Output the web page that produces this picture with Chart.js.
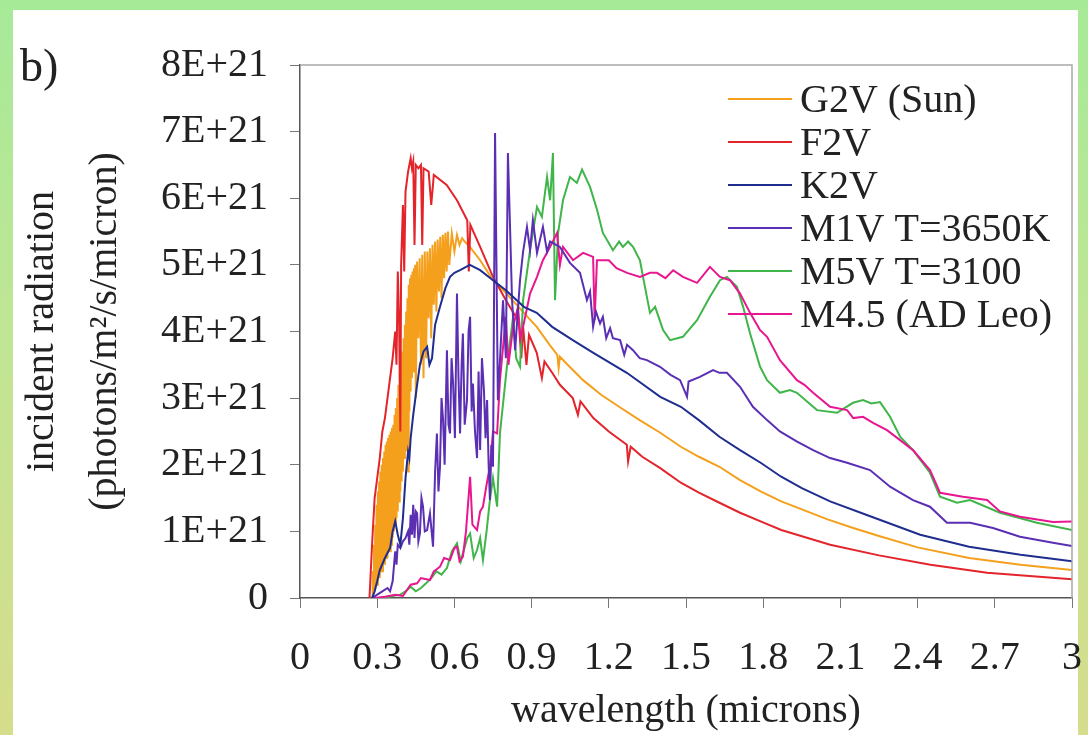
<!DOCTYPE html>
<html>
<head>
<meta charset="utf-8">
<script src="https://cdn.jsdelivr.net/npm/chart.js@4.4.1/dist/chart.umd.min.js"></script>
<style>
  html, body { margin: 0; padding: 0; }
  body {
    width: 1088px; height: 735px; overflow: hidden; position: relative;
    background: linear-gradient(to bottom, #a6ea98 0%, #bfe594 45%, #d6dd8c 100%);
  }
  #panel { position: absolute; left: 13px; top: 10px; width: 1065px; height: 725px; background: #fff; }
  #wrap { position: absolute; left: 0; top: 0; width: 1088px; height: 735px; }
  #tag { position: absolute; left: 20px; top: 43px; font: 46px/46px 'Liberation Serif', serif; color: #222; }
</style>
</head>
<body>
<div id="panel"></div>
<div id="wrap"><canvas id="chart"></canvas></div>
<div id="tag">b)</div>
<script>
  'use strict';

  // wavelength (microns) vs incident radiation, values in units of 1E+21 photons/m2/s/micron
  const SERIES_NAMES = ['G2V (Sun)', 'F2V', 'K2V', 'M1V T=3650K', 'M5V T=3100', 'M4.5 (AD Leo)'];
  const SERIES_COLORS = ['#f5a01c', '#e3242b', '#1f2d8f', '#5b2fb3', '#3fb54a', '#e8168f'];
  const X_TICKS = [0, 0.3, 0.6, 0.9, 1.2, 1.5, 1.8, 2.1, 2.4, 2.7, 3];
  const Y_MAX = 8;

  const g2v = [
    [0.2800, 0], [0.2825, 0.4], [0.2850, 0.1], [0.2875, 0.8], [0.2900, 0.1], [0.2925, 1.1], [0.2950, 0.2], [0.2975, 1.4],
    [0.3000, 0.2], [0.3025, 1.6], [0.3050, 0.3], [0.3075, 1.75], [0.3100, 0.3], [0.3125, 1.9], [0.3150, 0.4], [0.3175, 2.0],
    [0.3200, 0.4], [0.3225, 2.1], [0.3250, 0.5], [0.3275, 2.2], [0.3300, 0.5], [0.3325, 2.3], [0.3350, 0.6], [0.3375, 2.35],
    [0.3400, 0.6], [0.3425, 2.4], [0.3450, 0.7], [0.3475, 2.45], [0.3500, 0.7], [0.3525, 2.5], [0.3550, 0.8], [0.3575, 2.55],
    [0.3600, 0.9], [0.3625, 2.6], [0.3650, 1.0], [0.3675, 2.75], [0.3700, 1.1], [0.3725, 2.85], [0.3750, 1.2], [0.3775, 3.0],
    [0.3800, 1.3], [0.3825, 3.2], [0.3850, 1.45], [0.3875, 3.4], [0.3900, 1.6], [0.3925, 3.5], [0.3950, 1.75], [0.3975, 3.7],
    [0.4000, 1.9], [0.4025, 3.9], [0.4050, 2.1], [0.4075, 4.1], [0.4100, 2.4], [0.4125, 4.3], [0.4150, 2.2], [0.4175, 4.5],
    [0.4200, 1.9], [0.4225, 4.7], [0.4250, 2.8], [0.4275, 4.8], [0.4300, 3.1], [0.4325, 4.85], [0.4350, 3.3], [0.4375, 4.9],
    [0.4400, 3.4], [0.4425, 4.95], [0.4450, 3.6], [0.4475, 5.0], [0.450, 3.0], [0.455, 5.05], [0.460, 3.9], [0.465, 5.1],
    [0.470, 3.5], [0.475, 5.15], [0.480, 3.3], [0.485, 5.2], [0.490, 3.6], [0.495, 5.2], [0.500, 4.2], [0.505, 5.25],
    [0.510, 3.9], [0.515, 5.3], [0.520, 4.4], [0.525, 5.35], [0.530, 4.3], [0.535, 5.38], [0.540, 4.6], [0.545, 5.42],
    [0.550, 4.5], [0.555, 5.45], [0.560, 4.8], [0.565, 5.48], [0.570, 4.9], [0.575, 5.5], [0.580, 5.0], [0.590, 5.47],
    [0.600, 5.2], [0.610, 5.45], [0.620, 5.3], [0.630, 5.4], [0.640, 5.35], [0.660, 5.27], [0.700, 5.07], [0.750, 4.77],
    [0.800, 4.58], [0.870, 4.28], [0.920, 4.07], [0.970, 3.8], [1.000, 3.65], [1.005, 3.45], [1.010, 3.62], [1.040, 3.5],
    [1.100, 3.27], [1.170, 3.05], [1.240, 2.87], [1.320, 2.67], [1.400, 2.48], [1.480, 2.27], [1.550, 2.12],
    [1.630, 1.97], [1.710, 1.77], [1.790, 1.6], [1.870, 1.45], [1.950, 1.33], [2.050, 1.18], [2.150, 1.05],
    [2.250, 0.93], [2.400, 0.76], [2.600, 0.6], [2.800, 0.5], [3.000, 0.42]
  ];

  const f2v = [
    [0.270, 0], [0.280, 0.8], [0.290, 1.5], [0.300, 1.8], [0.310, 2.1], [0.320, 2.5], [0.330, 2.7], [0.340, 3.0],
    [0.350, 3.3], [0.360, 3.6], [0.370, 4.0], [0.375, 3.5], [0.380, 4.9], [0.385, 4.2], [0.390, 2.5], [0.393, 5.0],
    [0.400, 5.9], [0.405, 4.9], [0.410, 6.1], [0.420, 6.4], [0.430, 6.6], [0.435, 6.45], [0.440, 6.55], [0.445, 5.3],
    [0.450, 6.5], [0.460, 6.45], [0.470, 6.5], [0.475, 5.3], [0.480, 6.45], [0.500, 6.4], [0.510, 5.9], [0.520, 6.35],
    [0.570, 6.2], [0.610, 5.97], [0.650, 5.67], [0.656, 4.9], [0.662, 5.6], [0.700, 5.27], [0.750, 4.82],
    [0.800, 4.47], [0.850, 4.15], [0.860, 3.6], [0.867, 4.07], [0.880, 3.5], [0.890, 3.95], [0.920, 3.68],
    [0.940, 3.3], [0.950, 3.55], [0.980, 3.38], [1.010, 3.2], [1.060, 3.0], [1.080, 2.75], [1.090, 2.95],
    [1.140, 2.7], [1.200, 2.5], [1.270, 2.3], [1.275, 2.05], [1.285, 2.27], [1.330, 2.12], [1.400, 1.95],
    [1.480, 1.73], [1.550, 1.58], [1.630, 1.43], [1.710, 1.28], [1.790, 1.15], [1.870, 1.02], [2.060, 0.8],
    [2.250, 0.64], [2.450, 0.5], [2.670, 0.38], [3.000, 0.28]
  ];

  const k2v = [
    [0.280, 0], [0.290, 0.1], [0.300, 0.25], [0.310, 0.42], [0.330, 0.6], [0.350, 0.75], [0.360, 1.0], [0.370, 1.15],
    [0.380, 0.95], [0.390, 0.8], [0.400, 1.2], [0.410, 1.8], [0.420, 2.2], [0.425, 2.1], [0.430, 2.4], [0.440, 2.75],
    [0.455, 3.2], [0.466, 3.5], [0.480, 3.7], [0.494, 3.77], [0.503, 3.5], [0.513, 3.6], [0.525, 4.1], [0.544, 4.37],
    [0.565, 4.65], [0.583, 4.82], [0.600, 4.88], [0.622, 4.92], [0.660, 5.0], [0.700, 4.92], [0.750, 4.77],
    [0.800, 4.62], [0.870, 4.37], [0.920, 4.28], [0.980, 4.07], [1.060, 3.87], [1.140, 3.68], [1.270, 3.38],
    [1.400, 3.02], [1.480, 2.87], [1.550, 2.67], [1.630, 2.42], [1.710, 2.22], [1.790, 2.03], [1.870, 1.82],
    [1.950, 1.65], [2.060, 1.45], [2.200, 1.25], [2.410, 0.95], [2.600, 0.77], [2.800, 0.65], [3.000, 0.55]
  ];

  const m1v = [
    [0.280, 0], [0.300, 0.05], [0.320, 0.1], [0.340, 0.15], [0.350, 0.1], [0.360, 0.25], [0.370, 0.7], [0.375, 0.5],
    [0.380, 0.8], [0.390, 0.75], [0.400, 0.85], [0.410, 0.9], [0.420, 1.0], [0.425, 0.8], [0.430, 1.25], [0.435, 0.95],
    [0.440, 1.4], [0.445, 0.9], [0.450, 1.3], [0.455, 1.27], [0.460, 0.85], [0.466, 0.97], [0.472, 1.5], [0.478, 1.37],
    [0.485, 1.0], [0.494, 1.02], [0.505, 1.27], [0.517, 0.77], [0.525, 1.9], [0.532, 2.47], [0.538, 1.6], [0.544, 1.97],
    [0.550, 3.0], [0.556, 2.67], [0.562, 2.0], [0.571, 3.72], [0.577, 2.6], [0.583, 2.47], [0.589, 3.6], [0.595, 3.22],
    [0.602, 2.4], [0.610, 4.57], [0.616, 3.3], [0.622, 2.47], [0.628, 3.5], [0.633, 3.97], [0.640, 2.6], [0.649, 2.97],
    [0.655, 4.0], [0.661, 4.22], [0.667, 2.8], [0.672, 3.22], [0.680, 2.5], [0.688, 2.1], [0.694, 3.4], [0.700, 2.22],
    [0.707, 3.6], [0.715, 3.1], [0.721, 2.4], [0.727, 2.97], [0.733, 2.0], [0.738, 1.47], [0.744, 2.3], [0.750, 1.97],
    [0.758, 6.98], [0.769, 2.97], [0.789, 4.47], [0.800, 3.6], [0.808, 6.68], [0.816, 5.6],
    [0.824, 4.47], [0.836, 3.72], [0.855, 4.77], [0.867, 5.2], [0.882, 5.57], [0.894, 5.22], [0.905, 5.67],
    [0.921, 5.18], [0.944, 5.57], [0.960, 5.2], [0.972, 5.35], [1.010, 5.27], [1.049, 5.03], [1.088, 4.88],
    [1.115, 4.47], [1.127, 4.6], [1.139, 4.07], [1.150, 4.3], [1.166, 4.12], [1.177, 4.22], [1.190, 3.9],
    [1.205, 4.05], [1.216, 3.9], [1.244, 3.87], [1.260, 3.65], [1.271, 3.8], [1.294, 3.72], [1.320, 3.6],
    [1.348, 3.57], [1.399, 3.47], [1.440, 3.35], [1.477, 3.27], [1.504, 3.02], [1.510, 3.25], [1.554, 3.32],
    [1.605, 3.42], [1.630, 3.38], [1.659, 3.38], [1.710, 3.17], [1.760, 2.87], [1.815, 2.67], [1.865, 2.5],
    [1.930, 2.35], [1.994, 2.22], [2.060, 2.1], [2.126, 2.03], [2.215, 1.92], [2.293, 1.67], [2.382, 1.47],
    [2.448, 1.37], [2.514, 1.13], [2.604, 1.13], [2.693, 1.05], [2.798, 0.92], [2.926, 0.83], [3.000, 0.78]
  ];

  const m5v = [
    [0.330, 0], [0.360, 0.03], [0.390, 0.05], [0.410, 0.1], [0.430, 0.17], [0.450, 0.1], [0.470, 0.15], [0.490, 0.22],
    [0.510, 0.3], [0.530, 0.4], [0.550, 0.35], [0.571, 0.45], [0.590, 0.7], [0.610, 0.82], [0.625, 0.55],
    [0.633, 0.67], [0.650, 0.9], [0.661, 0.97], [0.675, 0.6], [0.688, 0.72], [0.700, 0.9], [0.711, 0.57],
    [0.725, 1.0], [0.738, 1.47], [0.750, 1.8], [0.766, 1.37], [0.777, 2.47], [0.804, 3.47], [0.828, 4.22],
    [0.840, 3.6], [0.855, 3.47], [0.867, 4.47], [0.894, 5.22], [0.921, 5.87], [0.940, 5.72], [0.960, 6.32],
    [0.972, 5.97], [0.983, 6.68], [0.991, 4.47], [1.003, 5.48], [1.022, 5.97], [1.049, 6.32], [1.076, 6.23],
    [1.096, 6.43], [1.127, 6.17], [1.154, 5.83], [1.177, 5.48], [1.216, 5.22], [1.240, 5.35], [1.255, 5.27],
    [1.275, 5.35], [1.294, 5.27], [1.321, 5.07], [1.333, 4.82], [1.360, 4.28], [1.380, 4.37], [1.411, 4.02],
    [1.438, 3.87], [1.488, 3.92], [1.543, 4.17], [1.593, 4.52], [1.632, 4.77], [1.659, 4.82], [1.698, 4.67],
    [1.722, 4.37], [1.749, 3.97], [1.788, 3.47], [1.815, 3.27], [1.865, 3.08], [1.904, 3.12], [1.931, 3.08],
    [2.009, 2.82], [2.087, 2.78], [2.149, 2.93], [2.188, 2.97], [2.220, 2.92], [2.254, 2.94], [2.293, 2.72],
    [2.332, 2.42], [2.382, 2.22], [2.448, 1.88], [2.487, 1.52], [2.553, 1.43], [2.604, 1.47], [2.720, 1.28],
    [2.864, 1.13], [3.000, 1.02]
  ];

  const m45 = [
    [0.290, 0], [0.330, 0.02], [0.370, 0.05], [0.400, 0.03], [0.430, 0.2], [0.455, 0.22], [0.470, 0.3],
    [0.505, 0.27], [0.520, 0.4], [0.544, 0.47], [0.560, 0.6], [0.583, 0.57], [0.600, 0.75], [0.610, 0.77],
    [0.620, 0.55], [0.633, 0.62], [0.645, 1.0], [0.661, 1.82], [0.670, 1.1], [0.688, 1.02], [0.700, 1.3],
    [0.711, 1.37], [0.725, 1.7], [0.738, 1.97], [0.750, 2.5], [0.766, 2.47], [0.777, 3.27], [0.800, 4.22],
    [0.810, 3.5], [0.828, 4.07], [0.847, 4.37], [0.857, 3.9], [0.867, 4.07], [0.894, 4.57], [0.921, 4.82],
    [0.944, 5.07], [0.972, 5.27], [0.999, 5.48], [1.010, 5.0], [1.022, 5.27], [1.061, 5.07], [1.100, 5.18],
    [1.139, 5.12], [1.145, 4.17], [1.154, 5.07], [1.200, 5.07], [1.230, 4.95], [1.271, 4.88], [1.321, 4.82],
    [1.360, 4.88], [1.387, 4.88], [1.420, 4.8], [1.450, 4.92], [1.488, 4.82], [1.543, 4.73], [1.593, 4.97],
    [1.632, 4.82], [1.671, 4.77], [1.710, 4.57], [1.749, 4.28], [1.788, 4.02], [1.815, 3.92], [1.865, 3.57],
    [1.931, 3.27], [1.960, 3.2], [1.994, 3.08], [2.060, 2.87], [2.126, 2.82], [2.150, 2.7], [2.188, 2.72],
    [2.227, 2.63], [2.281, 2.52], [2.332, 2.37], [2.382, 2.22], [2.448, 1.92], [2.487, 1.58], [2.576, 1.52],
    [2.670, 1.47], [2.720, 1.3], [2.798, 1.22], [2.926, 1.14], [3.000, 1.15]
  ];

  const SERIES = [g2v, f2v, k2v, m1v, m5v, m45];
  const DRAW_ORDER = [6, 5, 1, 2, 4, 3]; // higher = drawn first (underneath)

  const FONT = 'Liberation Serif, Times New Roman, serif';
  const TEXT = '#222';

  // plot-area frame: light top/right edges
  const frame = {
    id: 'frame',
    afterDraw(chart) {
      const a = chart.chartArea, ctx = chart.ctx;
      ctx.save();
      ctx.strokeStyle = '#a8a8a8'; ctx.lineWidth = 1.5;
      ctx.beginPath();
      ctx.moveTo(a.left, a.top); ctx.lineTo(a.right, a.top); ctx.lineTo(a.right, a.bottom);
      ctx.stroke();
      ctx.restore();
    },
  };

  // legend inside the plot, top right, no box
  const insideLegend = {
    id: 'insideLegend',
    afterDatasetsDraw(chart) {
      const a = chart.chartArea, ctx = chart.ctx;
      ctx.save();
      ctx.font = '40px ' + FONT;
      ctx.textBaseline = 'middle';
      ctx.fillStyle = TEXT;
      SERIES_NAMES.forEach((name, i) => {
        const y = a.top + 34 + i * 43;
        const x0 = a.right - 344;
        ctx.strokeStyle = SERIES_COLORS[i]; ctx.lineWidth = 2;
        ctx.beginPath(); ctx.moveTo(x0, y); ctx.lineTo(x0 + 64, y); ctx.stroke();
        ctx.fillText(name, x0 + 72, y + 2);
      });
      ctx.restore();
    },
  };

  new Chart(document.getElementById('chart'), {
    type: 'line',
    data: {
      datasets: SERIES.map((s, i) => ({
        label: SERIES_NAMES[i],
        data: s.map((p) => ({ x: p[0], y: p[1] })),
        borderColor: SERIES_COLORS[i],
        borderWidth: 2,
        pointRadius: 0,
        tension: 0,
        fill: false,
        order: DRAW_ORDER[i],
      })),
    },
    options: {
      responsive: true, maintainAspectRatio: false, animation: false,
      layout: { padding: { left: 0, right: 16, top: 65, bottom: 0 } },
      plugins: { legend: { display: false }, tooltip: { enabled: false } },
      scales: {
        x: {
          type: 'linear', min: 0, max: 3,
          afterFit: (s) => { s.height = 137; s.paddingLeft = 0; s.paddingRight = 0; },
          afterBuildTicks: (s) => { s.ticks = X_TICKS.map((v) => ({ value: v })); },
          ticks: { color: TEXT, font: { family: FONT, size: 40 }, padding: 26, maxRotation: 0, autoSkip: false, callback: (v) => String(v) },
          grid: { drawOnChartArea: false, drawTicks: true, tickLength: 10, color: '#777' },
          border: { color: '#555', width: 1.5 },
          title: { display: true, text: 'wavelength (microns)', color: TEXT, font: { family: FONT, size: 40, lineHeight: 1.2 }, padding: { top: 0, bottom: 0 } },
        },
        y: {
          min: 0, max: Y_MAX,
          afterFit: (s) => { s.width = 300; s.paddingTop = 0; s.paddingBottom = 0; },
          ticks: { stepSize: 1, color: TEXT, font: { family: FONT, size: 40 }, padding: 22, callback: (v) => (v === 0 ? '0' : v + 'E+21') },
          grid: { drawOnChartArea: false, drawTicks: true, tickLength: 10, color: '#777' },
          border: { color: '#555', width: 1.5 },
          title: { display: true, text: ['incident radiation', '(photons/m²/s/micron)'], color: TEXT, font: { family: FONT, size: 40, lineHeight: 1.575 }, padding: { top: 10.5, bottom: 0 } },
        },
      },
    },
    plugins: [frame, insideLegend],
  });
</script>
</body>
</html>
